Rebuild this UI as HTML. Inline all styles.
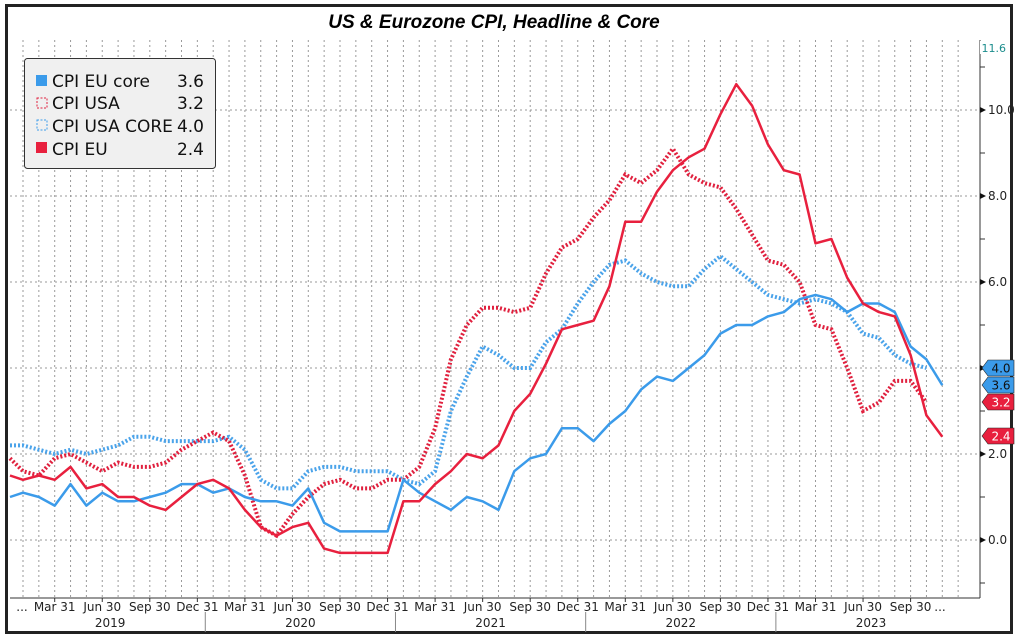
<!DOCTYPE html>
<html><head><meta charset="utf-8"><style>
html,body{margin:0;padding:0;background:#fff;}
svg{display:block;font-family:"DejaVu Sans","Liberation Sans",sans-serif;}
</style></head><body>
<svg id="c" width="1018" height="638" viewBox="0 0 1018 638" xmlns="http://www.w3.org/2000/svg">
<rect x="6.5" y="5.5" width="1005" height="627" fill="#fff" stroke="#222" stroke-width="3"/>
<text x="494" y="28" text-anchor="middle" font-size="19" font-weight="bold" font-style="italic" font-family="Liberation Sans, sans-serif">US &amp; Eurozone CPI, Headline &amp; Core</text>
<g id="grid"></g>
<g id="series"></g>
<line x1="980" y1="40" x2="980" y2="598" stroke="#333" stroke-width="1"/>
<line x1="10" y1="598" x2="980" y2="598" stroke="#333" stroke-width="1"/>
<g id="axis" font-size="12" fill="#222"></g>
<rect x="980" y="41" width="28" height="13" fill="#fff"/>
<text x="1006" y="52" font-size="11" text-anchor="end" fill="#1a8c8c">11.6</text>
<g id="tags" font-size="12"></g>
<rect x="24.5" y="58.5" width="191" height="110" rx="3" fill="#f0f0f0" stroke="#333"/>
<g font-size="17" fill="#111" font-family="DejaVu Sans, sans-serif">
<rect x="36" y="75" width="11" height="11" fill="#3b9bea"/>
<text x="52" y="87">CPI EU core</text><text x="204" y="87" text-anchor="end">3.6</text>
<rect x="37" y="98" width="10" height="10" fill="none" stroke="#e0203e" stroke-dasharray="2,1.5"/>
<text x="52" y="109">CPI USA</text><text x="204" y="109" text-anchor="end">3.2</text>
<rect x="37" y="120" width="10" height="10" fill="none" stroke="#3b9bea" stroke-dasharray="2,1.5"/>
<text x="52" y="132">CPI USA CORE</text><text x="204" y="132" text-anchor="end">4.0</text>
<rect x="36" y="142" width="11" height="11" fill="#e8203e"/>
<text x="52" y="155">CPI EU</text><text x="204" y="155" text-anchor="end">2.4</text>
</g>
</svg>
<script>
var NS="http://www.w3.org/2000/svg";
function el(p,t,a,txt){var e=document.createElementNS(NS,t);for(var k in a)e.setAttribute(k,a[k]);if(txt!=null)e.textContent=txt;document.getElementById(p).appendChild(e);return e;}
function X(m){return 23+15.85*m;}
function Y(v){return 540-43*v;}
var g="grid";
for(var m=-1;m<=59;m++){var x=X(m);if(x<12||x>978)continue;el(g,"line",{x1:x,y1:40,x2:x,y2:598,stroke:"#9a9a9a","stroke-width":1,"stroke-dasharray":"2,3"});}
for(var v=0;v<=10;v+=2){el(g,"line",{x1:10,y1:Y(v),x2:980,y2:Y(v),stroke:"#9a9a9a","stroke-width":1,"stroke-dasharray":"2,3"});}
// right axis ticks
for(var v=-1;v<=11;v++){var y=Y(v);if(y<45||y>596)continue;
 if(v%2==0){el("axis","path",{d:"M980 "+(y-3)+" L986 "+y+" L980 "+(y+3)+"Z",fill:"#111"});el("axis","text",{x:988,y:y+4},v.toFixed(1));}
 else el("axis","line",{x1:980,y1:y,x2:985,y2:y,stroke:"#333"});}
// x axis labels
var q=["Mar 31","Jun 30","Sep 30","Dec 31"];
el("axis","text",{x:22,y:611,"text-anchor":"middle"},"...");
for(var yr=0;yr<5;yr++)for(var i=0;i<4;i++){var m=yr*12+2+3*i;if(m>56)continue;var x=X(m);
 el("axis","line",{x1:x,y1:598,x2:x,y2:602,stroke:"#333"});
 el("axis","text",{x:x,y:611,"text-anchor":"middle"},q[i]);}
el("axis","text",{x:940,y:611,"text-anchor":"middle"},"...");
var yrs=["2019","2020","2021","2022","2023"];
for(var yr=0;yr<5;yr++){var c=(X(yr*12-0.5)+Math.min(X(yr*12+11.5),980))/2;el("axis","text",{x:c,y:627,"text-anchor":"middle"},yrs[yr]);
 if(yr>0)el("axis","line",{x1:X(yr*12-0.5),y1:612,x2:X(yr*12-0.5),y2:632,stroke:"#888"});}
var euc=[1.0,1.1,1.0,0.8,1.3,0.8,1.1,0.9,0.9,1.0,1.1,1.3,1.3,1.1,1.2,1.0,0.9,0.9,0.8,1.2,0.4,0.2,0.2,0.2,0.2,1.4,1.1,0.9,0.7,1.0,0.9,0.7,1.6,1.9,2.0,2.6,2.6,2.3,2.7,3.0,3.5,3.8,3.7,4.0,4.3,4.8,5.0,5.0,5.2,5.3,5.6,5.7,5.6,5.3,5.5,5.5,5.3,4.5,4.2,3.6];
var eu=[1.5,1.4,1.5,1.4,1.7,1.2,1.3,1.0,1.0,0.8,0.7,1.0,1.3,1.4,1.2,0.7,0.3,0.1,0.3,0.4,-0.2,-0.3,-0.3,-0.3,-0.3,0.9,0.9,1.3,1.6,2.0,1.9,2.2,3.0,3.4,4.1,4.9,5.0,5.1,5.9,7.4,7.4,8.1,8.6,8.9,9.1,9.9,10.6,10.1,9.2,8.6,8.5,6.9,7.0,6.1,5.5,5.3,5.2,4.3,2.9,2.4];
var us=[1.9,1.6,1.5,1.9,2.0,1.8,1.6,1.8,1.7,1.7,1.8,2.1,2.3,2.5,2.3,1.5,0.3,0.1,0.6,1.0,1.3,1.4,1.2,1.2,1.4,1.4,1.7,2.6,4.2,5.0,5.4,5.4,5.3,5.4,6.2,6.8,7.0,7.5,7.9,8.5,8.3,8.6,9.1,8.5,8.3,8.2,7.7,7.1,6.5,6.4,6.0,5.0,4.9,4.0,3.0,3.2,3.7,3.7,3.2];
var usc=[2.2,2.2,2.1,2.0,2.1,2.0,2.1,2.2,2.4,2.4,2.3,2.3,2.3,2.3,2.4,2.1,1.4,1.2,1.2,1.6,1.7,1.7,1.6,1.6,1.6,1.4,1.3,1.6,3.0,3.8,4.5,4.3,4.0,4.0,4.6,4.9,5.5,6.0,6.4,6.5,6.2,6.0,5.9,5.9,6.3,6.6,6.3,6.0,5.7,5.6,5.5,5.6,5.5,5.3,4.8,4.7,4.3,4.1,4.0];
function pts(a){return a.map(function(v,i){var x=X(i-1);if(x<10)x=10;return x.toFixed(1)+","+Y(v).toFixed(1);}).join(" ");}
el("series","polyline",{points:pts(usc),fill:"none",stroke:"#4aa3ea","stroke-width":4,"stroke-dasharray":"2,2"});
el("series","polyline",{points:pts(us),fill:"none",stroke:"#e0203e","stroke-width":4,"stroke-dasharray":"2,2"});
el("series","polyline",{points:pts(euc),fill:"none",stroke:"#3b9bea","stroke-width":2.5,"stroke-linejoin":"round"});
el("series","polyline",{points:pts(eu),fill:"none",stroke:"#e8203e","stroke-width":2.5,"stroke-linejoin":"round"});
function tag(v,y,c){el("tags","path",{d:"M982 "+y+" L988 "+(y-8)+" L1014 "+(y-8)+" L1014 "+(y+8)+" L988 "+(y+8)+"Z",fill:c,stroke:"#222","stroke-width":0.6});
 el("tags","text",{x:1001,y:y+4.5,"text-anchor":"middle",fill:c=="#e8203e"?"#fff":"#111"},v);}
tag("4.0",368,"#3b9bea");tag("3.6",385,"#3b9bea");tag("3.2",402,"#e8203e");tag("2.4",436,"#e8203e");
</script>
</body></html>
